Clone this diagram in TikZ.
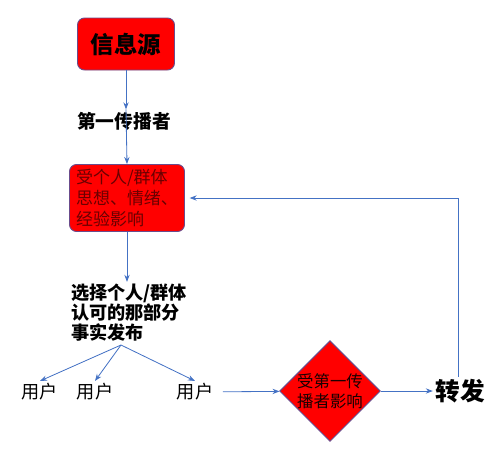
\documentclass[tikz,border=0pt]{standalone}
\usepackage{fontspec}
\setmainfont{Noto Sans CJK SC}
\usetikzlibrary{shapes,shapes.geometric,arrows,positioning,calc,arrows.meta}
\definecolor{linkblue}{HTML}{4472C4}
\definecolor{boxedge}{HTML}{6A4C8C}
\definecolor{darkred}{HTML}{6A0000}
\definecolor{darkink}{HTML}{1A0000}

\begin{document}
\begin{tikzpicture}[x=0.03cm, y=-0.03cm, >={Stealth[length=6pt,width=4.5pt]},
    redbox/.style={rectangle,rounded corners=6pt,draw=boxedge,fill=red,line width=0.8pt,inner sep=2pt},
    decide/.style={diamond,aspect=1,draw=boxedge,fill=red,line width=0.8pt,inner sep=0pt,minimum width=3cm,minimum height=3cm},
    label/.style={font=\bfseries\fontsize{16}{17}\selectfont,inner sep=2pt},
    user/.style={font=\fontsize{15.5}{16}\selectfont,inner sep=2pt},
    link/.style={->,draw=linkblue,line width=0.7pt}]
    \useasboundingbox (0,0) rectangle (497,467);

    \node[redbox,minimum width=2.91cm,minimum height=1.56cm,font=\bfseries\fontsize{20}{22}\selectfont] (src) at (126,44) {信息源};
    \node[label] (first) at (124,121) {第一传播者};
    \node[redbox,minimum width=3.45cm,minimum height=2.01cm,align=left,text=darkred,font=\fontsize{14.5}{18}\selectfont] (mind) at (127,198) {受个人/群体\\思想、情绪、\\经验影响};
    \node[label,align=left,font=\bfseries\fontsize{15.5}{17}\selectfont] (pick) at (129,313) {选择个人/群体\\认可的那部分\\事实发布};
    \coordinate (fan) at (121,345);

    % users
    \node[user] (u1) at (40,392) {用户};
    \node[user] (u2) at (95,392) {用户};
    \node[user] (u3) at (195,392) {用户};

    \node[decide,align=center,text=darkink,font=\fontsize{14}{17}\selectfont] (judge) at (330,391) {受第一传\\播者影响};
    \node[label,font=\bfseries\fontsize{21}{23}\selectfont] (fwd) at (460,391) {转发};

    \draw[link] (src.south) -- (src.south |- first.north);
    \draw[link] (src.south |- first.north) -- (mind.north);
    \draw[link] (mind.south) -- (mind.south |- pick.north);
    \draw[link] (fan) -- (u1.north);
    \draw[link] (fan) -- (u2.north);
    \draw[link] (fan) -- (u3.north);
    \draw[link, shorten <=6pt] (u3) -- (judge);
    \draw[link] (judge) -- (fwd);

    % feedback loop
    \draw[link, shorten >=4pt] (fwd.north -| 458,0) |- (mind.east);
\end{tikzpicture}
\end{document}
